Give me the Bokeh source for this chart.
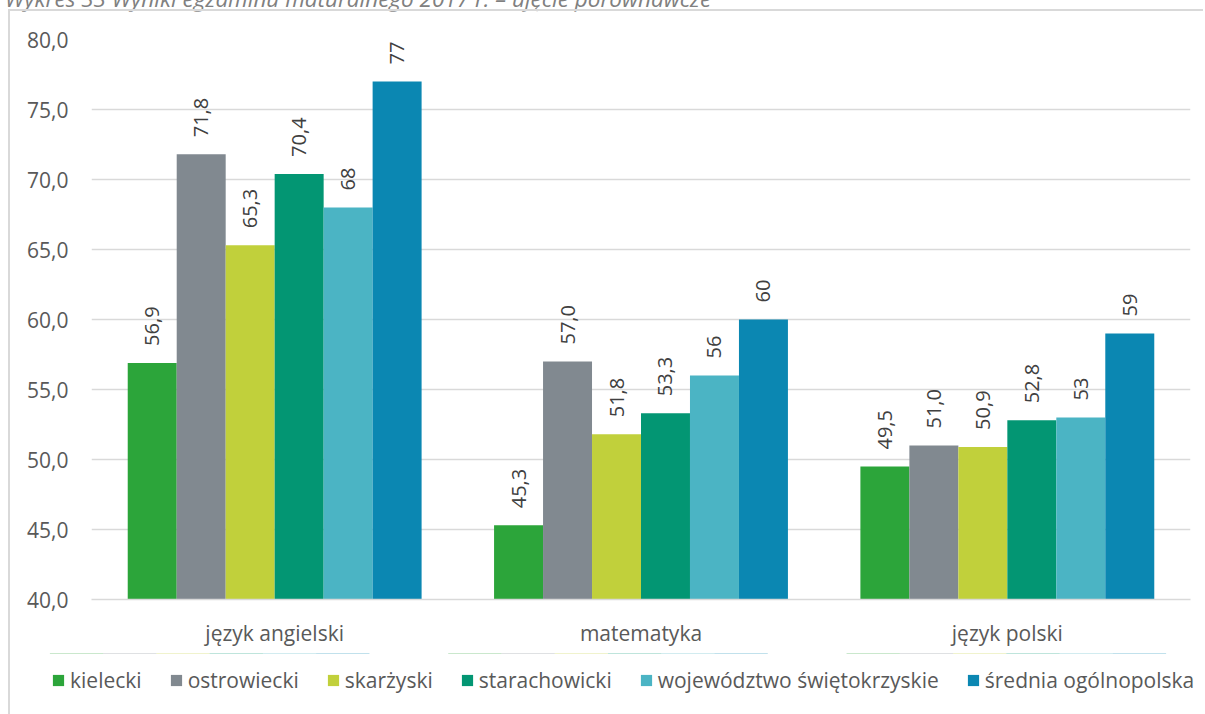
import math
from bokeh.plotting import figure
from bokeh.models import (FactorRange, Range1d, ColumnDataSource, Legend, LegendItem,
                          FixedTicker, Div)
from bokeh.transform import dodge
from bokeh.core.properties import value
from bokeh.embed import file_html
from bokeh.resources import INLINE

# ---------------- data ----------------
title_text = "Wykres 33 Wyniki egzaminu maturalnego 2017 r. – ujęcie porównawcze"
categories = ["język angielski", "matematyka", "język polski"]
series_names = ["kielecki", "ostrowiecki", "skarżyski", "starachowicki",
                "województwo świętokrzyskie", "średnia ogólnopolska"]
kielecki = [56.9, 45.3, 49.5]
ostrowiecki = [71.8, 57.0, 51.0]
skarzyski = [65.3, 51.8, 50.9]
starachowicki = [70.4, 53.3, 52.8]
wojewodztwo = [68, 56, 53]
srednia = [77, 60, 59]
label_decimals = [1, 1, 1, 1, 0, 0]
y_ticks = [40, 45, 50, 55, 60, 65, 70, 75, 80]

series_values = [kielecki, ostrowiecki, skarzyski, starachowicki, wojewodztwo, srednia]
colors = ["#2ca53a", "#818990", "#c1d03b", "#039673", "#4bb4c4", "#0b87b2"]

FONT = "Open Sans"
GRID = "#d9d9d9"
y_start, y_end = y_ticks[0], y_ticks[-1]

# page geometry (absolute positioning of the pieces)
BX, BY, BW = 8, 9, 2          # outer border position / thickness
FIG_X, FIG_Y = BX + BW, BY + BW
MAIN_H = 655 - FIG_Y
LEG_Y = BY + MAIN_H           # continue the left border line without a gap
LEG_H = 714 - LEG_Y
W = 1205 - FIG_X

def absolute(left, top):
    return {"position": "absolute", "left": f"{left}px", "top": f"{top}px"}

# half-hidden title above the chart area
title = Div(text=title_text, width=1100, height=28,
            styles={**absolute(0, -20), "font-family": FONT, "font-style": "italic",
                    "font-size": "22.5px", "line-height": "28px", "color": "#808080",
                    "white-space": "nowrap"})

p = figure(x_range=FactorRange(factors=categories), y_range=Range1d(y_start, y_end),
           width=W, height=MAIN_H, output_backend="svg", toolbar_location=None,
           min_border_left=91 - FIG_X, min_border_right=15, min_border_top=39 - FIG_Y,
           min_border_bottom=655 - 599,
           styles={**absolute(BX, BY), "border-left": f"{BW}px solid {GRID}",
                   "border-top": f"{BW}px solid {GRID}"})
p.outline_line_color = None
p.background_fill_color = "white"
p.border_fill_color = "white"

bar_w = 0.1337
sources = []
for i, (name, vals) in enumerate(zip(series_names, series_values)):
    d = label_decimals[i]
    labs = [f"{v:.{d}f}".replace(".", ",") for v in vals]
    src = ColumnDataSource(dict(cat=categories, val=vals, lab=labs))
    sources.append(src)
    off = (i - 2.5) * bar_w
    p.vbar(x=dodge("cat", off, range=p.x_range), top="val", bottom=y_start, width=bar_w,
           source=src, fill_color=colors[i], line_color=None)
    p.text(x=dodge("cat", off, range=p.x_range), y="val", text="lab", source=src,
           angle=math.pi / 2, text_align="left", text_baseline="middle", y_offset=-17,
           text_font=value(FONT), text_font_size="20px", text_color="#404040")

# axes
p.yaxis.ticker = FixedTicker(ticks=y_ticks)
p.ygrid.ticker = FixedTicker(ticks=y_ticks)
p.yaxis.major_label_overrides = {t: f"{t:.1f}".replace(".", ",") for t in y_ticks}
p.yaxis.axis_line_color = None
p.yaxis.major_tick_line_color = None
p.yaxis.minor_tick_line_color = None
p.yaxis.major_label_standoff = 17
p.yaxis.major_label_text_font = FONT
p.yaxis.major_label_text_font_size = "21px"
p.yaxis.major_label_text_color = "#595959"

p.xaxis.axis_line_color = GRID
p.xaxis.axis_line_width = 1.5
p.xaxis.major_tick_line_color = None
p.xaxis.minor_tick_line_color = None
p.xaxis.major_label_standoff = 13
p.xaxis.major_label_text_font = FONT
p.xaxis.major_label_text_font_size = "21px"
p.xaxis.major_label_text_color = "#595959"

p.xgrid.grid_line_color = None
p.ygrid.grid_line_color = GRID
p.ygrid.grid_line_width = 1.5

# ---------------- legend strip (same series, drawn outside its visible range) ----------------
q = figure(x_range=FactorRange(factors=categories), y_range=Range1d(0, 1),
           width=W, height=LEG_H, output_backend="svg", toolbar_location=None,
           x_axis_type=None, y_axis_type=None,
           min_border_left=0, min_border_right=0, min_border_top=0, min_border_bottom=0,
           styles={**absolute(BX, LEG_Y), "border-left": f"{BW}px solid {GRID}"})
q.outline_line_color = None
q.background_fill_color = "white"
q.border_fill_color = "white"
q.xgrid.visible = False
q.ygrid.visible = False

items = []
for i, name in enumerate(series_names):
    off = (i - 2.5) * bar_w
    r = q.vbar(x=dodge("cat", off, range=q.x_range), top="val", bottom=y_start, width=bar_w,
               source=sources[i], fill_color=colors[i], line_color=None)
    items.append(LegendItem(label=name, renderers=[r]))

legend = Legend(items=items, orientation="horizontal", location=(51 - FIG_X, 20),
                glyph_width=14, glyph_height=14, label_standoff=5, spacing=27,
                padding=0, margin=0, border_line_color=None, background_fill_alpha=0,
                label_text_font=FONT, label_text_font_size="21px", label_text_color="#595959")
q.add_layout(legend)

open("out.html", "w").write(file_html([title, p, q], INLINE))
